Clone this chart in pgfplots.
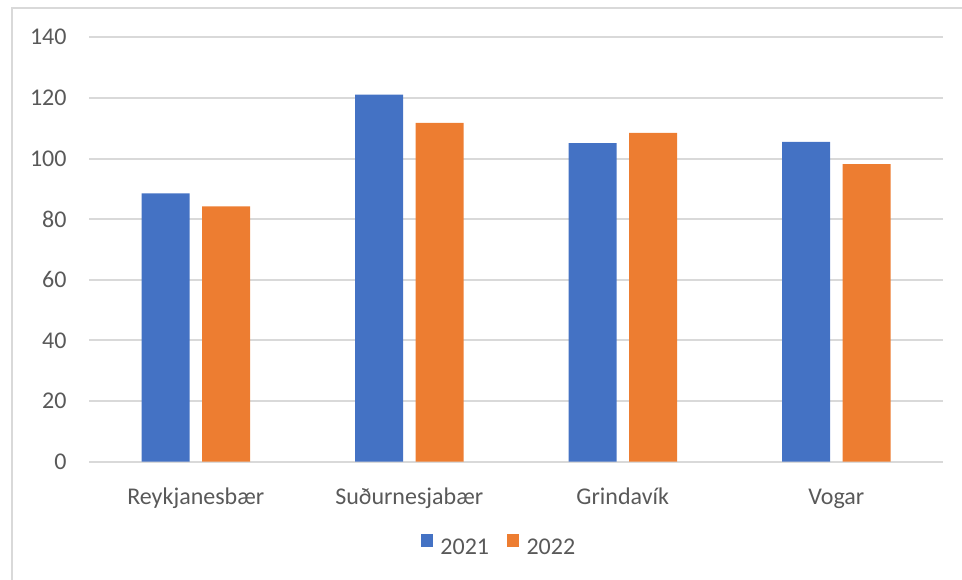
\documentclass[border=0pt]{standalone}
\usepackage{pgfplots}
\pgfplotsset{compat=1.18}
\usepackage{fontspec}
\setmainfont{Carlito}
\definecolor{xblue}{HTML}{4472C4}
\definecolor{xorange}{HTML}{ED7D31}
\definecolor{xgrid}{HTML}{D9D9D9}
\definecolor{xtext}{HTML}{595959}
\begin{document}
\begin{tikzpicture}[x=1bp,y=1bp]
\path[use as bounding box] (0,0) rectangle (962,580);
\draw[xgrid, line width=2bp] (12,0) -- (12,572) -- (962,572);
\begin{axis}[
  at={(89bp,118.3bp)}, anchor=south west,
  scale only axis, width=854bp, height=424.4bp,
  xmin=-0.5, xmax=3.5, ymin=0, ymax=140,
  ybar=12.5bp, bar width=48bp,
  xtick={0,1,2,3},
  xticklabels={Reykjanesbær,Suðurnesjabær,Grindavík,Vogar},
  ytick={0,20,...,140},
  axis line style={draw=none}, tick style={draw=none},
  ymajorgrids, grid style={xgrid, line width=2bp},
  tick label style={font=\fontsize{24bp}{28bp}\selectfont, text=xtext},
  /pgf/number format/assume math mode=true,
  yticklabel style={anchor=east, inner sep=0pt, xshift=-22.3bp},
  xticklabel style={anchor=base, inner sep=0pt, yshift=-39bp},
  legend columns=2,
  legend style={draw=none, fill=none, inner sep=0pt,
    at={(0.4789,-0.1956)}, anchor=center,
    font=\fontsize{24bp}{28bp}\selectfont, text=xtext,
    nodes={inner sep=0pt},
    /tikz/every odd column/.append style={column sep=7.7bp},
    /tikz/every even column/.append style={column sep=17.7bp}},
  legend image code/.code={\fill[#1] (0bp,0.5bp) rectangle (12bp,13.5bp);},
]
\addplot[fill=xblue, draw=none] coordinates {(0,88.5) (1,121.1) (2,105.1) (3,105.5)};
\addplot[fill=xorange, draw=none] coordinates {(0,84.2) (1,111.8) (2,108.5) (3,98.2)};
\legend{2021,2022}
\end{axis}
\end{tikzpicture}
\end{document}
